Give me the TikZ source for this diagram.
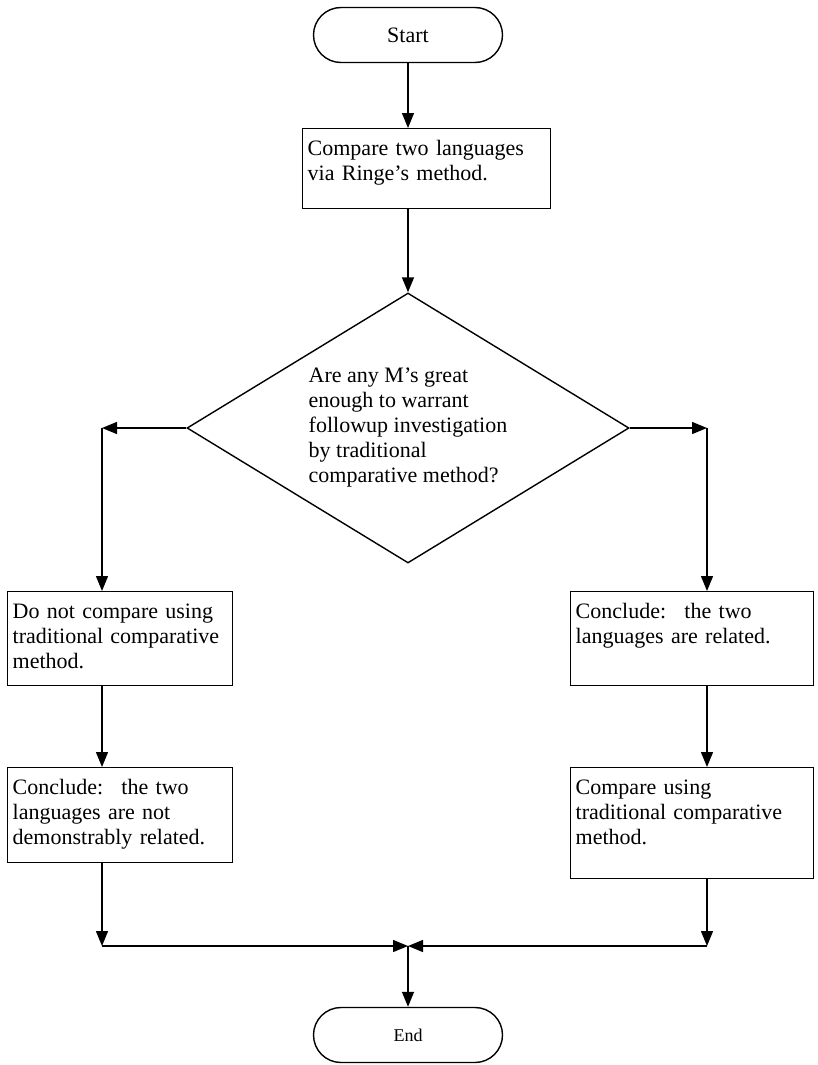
\documentclass[tikz,border=0pt]{standalone}
\usepackage{fontspec}
\setmainfont{Liberation Serif}
\usetikzlibrary{arrows.meta,positioning,shapes.misc,shapes.geometric}
\tikzset{
  flow/.style={line width=1.4pt, -{Triangle[length=15pt,width=12pt]}},
  terminal/.style={draw, line width=1.4pt, rounded rectangle, minimum width=189, minimum height=55, inner sep=0pt},
  procbox/.style={draw, line width=1.4pt, anchor=north west, text width=#1, align=left, inner xsep=5pt, inner ysep=5pt, text height=22pt},
  decision/.style={draw, line width=1.4pt, diamond, aspect=1.64, minimum width=442, minimum height=270, inner sep=0pt, align=left}
}

\begin{document}
\begin{tikzpicture}[x=1pt, y=-1pt, font=\fontsize{22}{25}\selectfont]
\useasboundingbox (0,0) rectangle (817,1065);
\node[terminal] (start) at (408,35) {Start};
\node[procbox=238, text depth=48] (ringe) at (302,128) {Compare two languages\\via Ringe’s method.};
\node[decision] (question) at (408,428) {Are any M’s great\\enough to warrant\\followup investigation\\by traditional\\comparative method?};
\node[procbox=215, text depth=62] (nocompare) at (7,591) {Do not compare using\\traditional comparative\\method.};
\node[procbox=215, text depth=63] (notrelated) at (7,767) {Conclude:~ the two\\languages are not\\demonstrably related.};
\node[procbox=233, text depth=62] (related) at (570,591) {Conclude:~ the two\\languages are related.};
\node[procbox=233, text depth=79] (tradcompare) at (570,767) {Compare using\\traditional comparative\\method.};
\node[terminal, font=\fontsize{18}{21}\selectfont] (end) at (408,1035) {End};
\coordinate (leftturn) at (102,428);
\coordinate (rightturn) at (707,428);
\coordinate (merge) at (408,946);
\coordinate (leftdrop) at (leftturn |- merge);
\coordinate (rightdrop) at (rightturn |- merge);
\draw[flow] (start) -- (start |- ringe.north);
\draw[flow] (question.north |- ringe.south) -- (question.north);
\draw[flow] (question.west) -- (leftturn);
\draw[flow] (leftturn) -- (leftturn |- nocompare.north);
\draw[flow] (question.east) -- (rightturn);
\draw[flow] (rightturn) -- (rightturn |- related.north);
\draw[flow] (leftturn |- nocompare.south) -- (leftturn |- notrelated.north);
\draw[flow] (rightturn |- related.south) -- (rightturn |- tradcompare.north);
\draw[flow] (leftturn |- notrelated.south) -- (leftdrop);
\draw[flow] (rightturn |- tradcompare.south) -- (rightdrop);
\draw[flow] (leftdrop) -- (merge);
\draw[flow] (rightdrop) -- (merge);
\draw[flow] (merge) -- (end);
\end{tikzpicture}
\end{document}
